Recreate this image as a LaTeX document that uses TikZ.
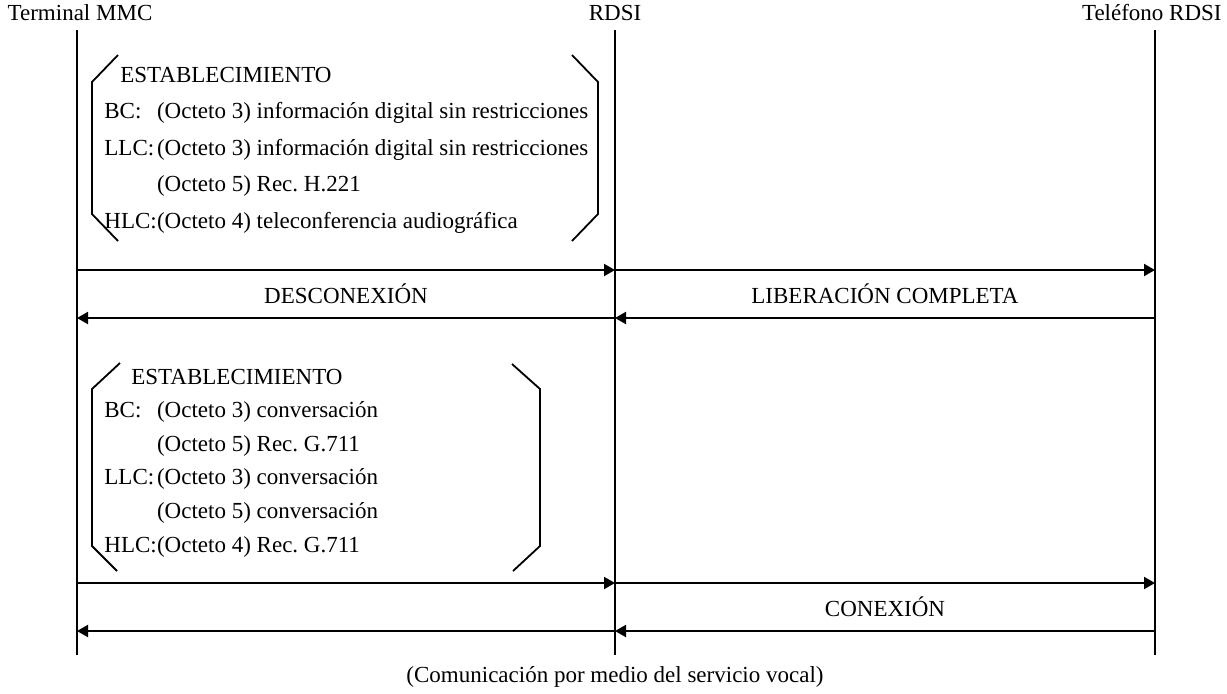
\documentclass[tikz,border=0pt]{standalone}
\usepackage{fontspec}
\setmainfont{Liberation Serif}
\usetikzlibrary{arrows.meta,calc}
\newcommand{\tg}[1]{\makebox[2.29em][l]{#1}}
\tikzset{
  lifeline/.style={line width=1pt},
  msg/.style={line width=1pt, -{Triangle[length=5.5pt,width=6pt]}},
  bracket/.style={line width=0.9pt},
  txt/.style={font=\fontsize{11.5}{14}\selectfont\frenchspacing, inner sep=0pt},
  param/.style={txt, anchor=base west}
}

\begin{document}
\begin{tikzpicture}[x=0.5pt, y=-0.5pt]
  \useasboundingbox (0,0) rectangle (1227,693);
  % entities and lifelines
  \node[txt] (mmc) at (80,13) {Terminal MMC};
  \node[txt] (rdsi) at (615,13) {RDSI};
  \node[txt, anchor=east] (tel) at (1222,13) {Teléfono RDSI};
  \foreach \n/\x in {mmc/77, rdsi/615, tel/1155} {
    \coordinate (\n-top) at (\x,30);
    \coordinate (\n-bot) at (\x,655);
    \draw[lifeline] (\n-top) -- (\n-bot);
    \foreach \m/\y in {m1/270, m2/318, m3/583, m4/631}
      \coordinate (\n-\m) at (\x,\y);
  }

  % first setup
  \draw[bracket] (118,55) -- (92,82) -- (92,214) -- (118,241);
  \draw[bracket] (572,55) -- (598,82) -- (598,214) -- (572,241);
  \node[param] (est1) at (120,82) {ESTABLECIMIENTO};
  \foreach \t/\c [count=\i] in {{BC:}/{(Octeto 3) información digital sin restricciones},
      {LLC:}/{(Octeto 3) información digital sin restricciones},
      {}/{(Octeto 5) Rec. H.221},
      {HLC:}/{(Octeto 4) teleconferencia audiográfica}}
    \node[param] (pa-\i) at (104,82+36.5*\i) {\tg{\t}\c};

  \draw[msg] (mmc-m1) -- (rdsi-m1);
  \draw[msg] (rdsi-m1) -- (tel-m1);
  \draw[msg] (tel-m2) -- (rdsi-m2);
  \draw[msg] (rdsi-m2) -- (mmc-m2);
  \node[txt] (disc) at ($(mmc-m1)!0.5!(rdsi-m2)$) {DESCONEXIÓN};
  \node[txt] (rel) at ($(rdsi-m1)!0.5!(tel-m2)$) {LIBERACIÓN COMPLETA};

  % second setup
  \draw[bracket] (120,363) -- (92,389) -- (92,546) -- (117,571);
  \draw[bracket] (512,364) -- (540,389) -- (540,546) -- (513,571);
  \node[param] (est2) at (131,384) {ESTABLECIMIENTO};
  \foreach \t/\c [count=\i] in {{BC:}/{(Octeto 3) conversación},
      {}/{(Octeto 5) Rec. G.711},
      {LLC:}/{(Octeto 3) conversación},
      {}/{(Octeto 5) conversación},
      {HLC:}/{(Octeto 4) Rec. G.711}}
    \node[param] (pb-\i) at (104,384+33.6*\i) {\tg{\t}\c};

  \draw[msg] (mmc-m3) -- (rdsi-m3);
  \draw[msg] (rdsi-m3) -- (tel-m3);
  \draw[msg] (tel-m4) -- (rdsi-m4);
  \draw[msg] (rdsi-m4) -- (mmc-m4);
  \node[txt] (conn) at ($(rdsi-m3)!0.5!(tel-m4)$) {CONEXIÓN};

  \node[txt] (note) at (615,677) {(Comunicación por medio del servicio vocal)};
\end{tikzpicture}
\end{document}
